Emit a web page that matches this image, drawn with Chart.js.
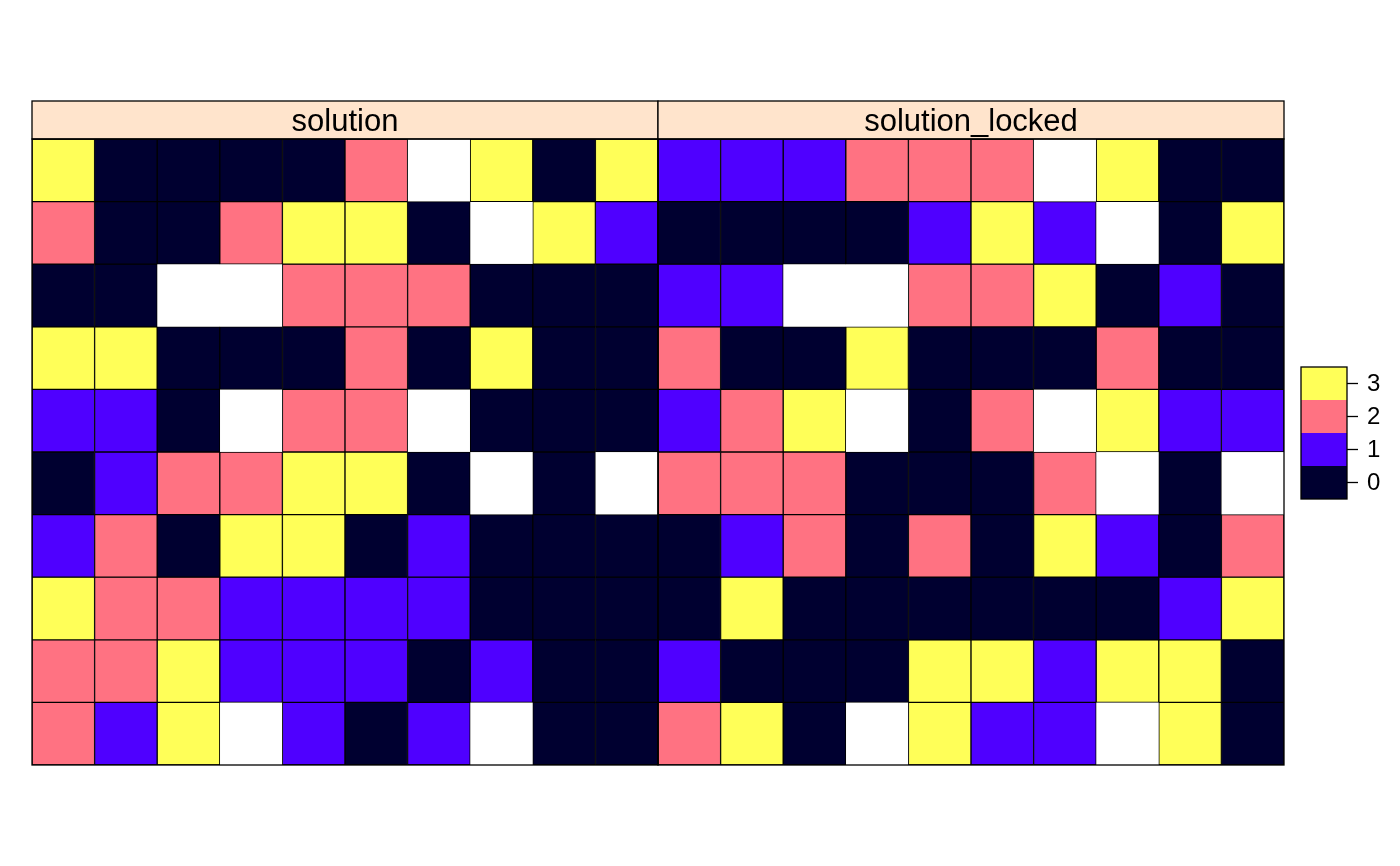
<!DOCTYPE html>
<html>
<head>
<meta charset="utf-8">
<script src="https://cdn.jsdelivr.net/npm/chart.js@4/dist/chart.umd.min.js"></script>
<style>
  html, body { margin: 0; padding: 0; background: #ffffff; }
  #wrap { width: 1400px; height: 866px; }
</style>
</head>
<body>
<div id="wrap"><canvas id="graphic" width="1400" height="866"></canvas></div>
<script>
// panels and grid values (null = NA, not drawn)
const panels = ["solution", "solution_locked"];
const solution = [
  [3, 0, 0, 0, 0, 2, null, 3, 0, 3],
  [2, 0, 0, 2, 3, 3, 0, null, 3, 1],
  [0, 0, null, null, 2, 2, 2, 0, 0, 0],
  [3, 3, 0, 0, 0, 2, 0, 3, 0, 0],
  [1, 1, 0, null, 2, 2, null, 0, 0, 0],
  [0, 1, 2, 2, 3, 3, 0, null, 0, null],
  [1, 2, 0, 3, 3, 0, 1, 0, 0, 0],
  [3, 2, 2, 1, 1, 1, 1, 0, 0, 0],
  [2, 2, 3, 1, 1, 1, 0, 1, 0, 0],
  [2, 1, 3, null, 1, 0, 1, null, 0, 0]
];
const solutionLocked = [
  [1, 1, 1, 2, 2, 2, null, 3, 0, 0],
  [0, 0, 0, 0, 1, 3, 1, null, 0, 3],
  [1, 1, null, null, 2, 2, 3, 0, 1, 0],
  [2, 0, 0, 3, 0, 0, 0, 2, 0, 0],
  [1, 2, 3, null, 0, 2, null, 3, 1, 1],
  [2, 2, 2, 0, 0, 0, 2, null, 0, null],
  [0, 1, 2, 0, 2, 0, 3, 1, 0, 2],
  [0, 3, 0, 0, 0, 0, 0, 0, 1, 3],
  [1, 0, 0, 0, 3, 3, 1, 3, 3, 0],
  [2, 3, 0, null, 3, 1, 1, null, 3, 0]
];
const legendLabels = [0, 1, 2, 3];
const valueColors = ["#000030", "#4f00ff", "#ff7282", "#ffff58"];

const nCols = 10;
const nRows = solution.length;
const colLabels = [];
for (let p = 0; p < panels.length; p++) {
  for (let c = 0; c < nCols; c++) colLabels.push(panels[p] + " " + (c + 1));
}

// one floating-bar dataset per grid row, both panels side by side
const datasets = [];
for (let r = 0; r < nRows; r++) {
  const rowValues = solution[r].concat(solutionLocked[r]);
  const top = nRows - r;
  datasets.push({
    label: "row " + (r + 1),
    data: rowValues.map(v => v === null ? null : [top - 1, top]),
    backgroundColor: rowValues.map(v => v === null ? "rgba(0,0,0,0)" : valueColors[v]),
    borderColor: "#000000",
    borderWidth: 1,
    borderSkipped: false,
    grouped: false,
    barPercentage: 1,
    categoryPercentage: 1
  });
}

// strips, panel frames and the colour key
const panelDecor = {
  id: "panelDecor",
  afterDraw(chart) {
    const ctx = chart.ctx;
    const area = chart.chartArea;
    const w = (area.right - area.left) / panels.length;
    const stripH = 38;
    ctx.save();
    ctx.lineWidth = 1.3;
    ctx.strokeStyle = "#000000";
    for (let p = 0; p < panels.length; p++) {
      const x0 = area.left + p * w;
      ctx.fillStyle = "#ffe4cc";
      ctx.fillRect(x0, area.top - stripH, w, stripH);
      ctx.strokeRect(x0, area.top - stripH, w, stripH);
      ctx.strokeRect(x0, area.top, w, area.bottom - area.top);
      ctx.fillStyle = "#000000";
      ctx.font = "31px 'Liberation Sans', Arial, sans-serif";
      ctx.textAlign = "center";
      ctx.textBaseline = "alphabetic";
      ctx.fillText(panels[p], x0 + w / 2, area.top - 8);
    }
    // colour key
    const kx = 1301, kw = 46, kTop = 367, kh = 33;
    const n = legendLabels.length;
    for (let i = 0; i < n; i++) {
      const y = kTop + (n - 1 - i) * kh;
      ctx.fillStyle = valueColors[i];
      ctx.fillRect(kx, y, kw, kh);
      ctx.beginPath();
      ctx.moveTo(kx + kw, y + kh / 2);
      ctx.lineTo(kx + kw + 11, y + kh / 2);
      ctx.stroke();
      ctx.fillStyle = "#000000";
      ctx.font = "24px 'Liberation Sans', Arial, sans-serif";
      ctx.textAlign = "left";
      ctx.textBaseline = "middle";
      ctx.fillText(String(legendLabels[i]), kx + kw + 20, y + kh / 2 + 1);
    }
    ctx.strokeRect(kx, kTop, kw, kh * n);
    ctx.restore();
  }
};

new Chart(document.getElementById("graphic"), {
  type: "bar",
  data: { labels: colLabels, datasets: datasets },
  options: {
    responsive: false,
    animation: false,
    layout: { padding: { left: 32, right: 116, top: 139, bottom: 101 } },
    scales: {
      x: { display: false, offset: true },
      y: { display: false, min: 0, max: nRows }
    },
    plugins: {
      legend: { display: false },
      tooltip: { enabled: false }
    }
  },
  plugins: [panelDecor]
});
</script>
</body>
</html>
